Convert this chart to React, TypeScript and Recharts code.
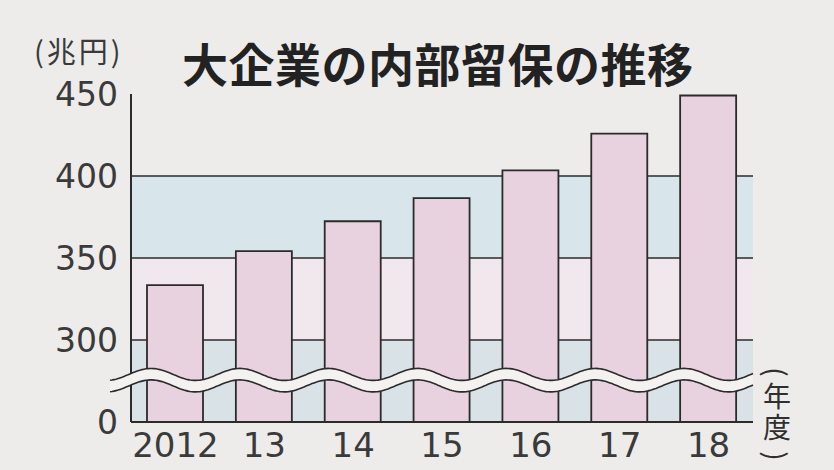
import { BarChart, Bar, XAxis, YAxis, ReferenceArea, ReferenceLine } from "recharts";

// fiscal years and large-company retained earnings (trillion yen)
const years = ["2012", "13", "14", "15", "16", "17", "18"];
const reserves = [333.5, 354.2, 372.4, 386.5, 403.4, 425.8, 449.1];

// the axis is broken: the bottom value stands in for 0
const axisBase = 250;
const yTicks = [250, 300, 350, 400, 450];
const yTickLabels = ["0", "300", "350", "400", "450"];
const gridValues = [300, 350, 400];
// position of the wavy break, in axis units
const breakLow = 272;
const breakHigh = 279;

const data = years.map((year, i) => ({ year, value: reserves[i] }));

const NUM_FONT = "'DejaVu Sans', 'Liberation Sans', sans-serif";
const JP_FONT = "'Noto Sans CJK JP', 'Noto Sans', sans-serif";
const INK = "#2b2b2b";

function BreakWave(props: any) {
  const { x, y, width, height } = props;
  const period = width / years.length;
  const amp = 6;
  const start = x - 21;
  const end = x + width;
  const phase = x + 20;
  const line = (base: number) => {
    const pts: [number, number][] = [];
    for (let px = start; px < end; px += 2) {
      pts.push([px, base - amp * Math.cos((2 * Math.PI * (px - phase)) / period)]);
    }
    pts.push([end, base - amp * Math.cos((2 * Math.PI * (end - phase)) / period)]);
    return pts;
  };
  const top = line(y);
  const bottom = line(y + height);
  const toPath = (pts: [number, number][]) =>
    pts.map((p, i) => `${i === 0 ? "M" : "L"}${p[0].toFixed(1)},${p[1].toFixed(1)}`).join(" ");
  const fill =
    toPath(top) +
    " " +
    bottom
      .slice()
      .reverse()
      .map((p) => `L${p[0].toFixed(1)},${p[1].toFixed(1)}`)
      .join(" ") +
    " Z";
  return (
    <g>
      <path d={fill} fill="#f3f2f0" stroke="none" />
      <path d={toPath(top)} fill="none" stroke={INK} strokeWidth={1.6} />
      <path d={toPath(bottom)} fill="none" stroke={INK} strokeWidth={1.6} />
    </g>
  );
}

// one cell of the vertical "(年度)" unit label
const unitCell = (top: number, size: number, rotate = false): React.CSSProperties => ({
  position: "absolute",
  left: 0,
  top,
  width: 32,
  height: size,
  lineHeight: `${size}px`,
  fontSize: size,
  textAlign: "center",
  transform: rotate ? "rotate(90deg)" : undefined,
});

export default function App() {
  return (
    <div
      style={{
        position: "absolute",
        left: 0,
        top: 0,
        width: 834,
        height: 470,
        background: "#edecea",
        overflow: "hidden",
      }}
    >
      <div style={{ position: "absolute", left: 0, top: 0 }}>
        <BarChart
          width={834}
          height={470}
          data={data}
          margin={{ top: 94, right: 81, bottom: 0, left: 0 }}
        >
          <ReferenceArea y1={250} y2={300} fill="#d9e3e7" fillOpacity={1} stroke="none" zIndex={-300} />
          <ReferenceArea y1={300} y2={350} fill="#f1e8ed" fillOpacity={1} stroke="none" zIndex={-300} />
          <ReferenceArea y1={350} y2={400} fill="#d8e6eb" fillOpacity={1} stroke="none" zIndex={-300} />
          {gridValues.map((v) => (
            <ReferenceLine key={v} y={v} stroke={INK} strokeWidth={1.6} zIndex={-200} />
          ))}
          <XAxis
            dataKey="year"
            height={48}
            axisLine={{ stroke: INK, strokeWidth: 2 }}
            tickLine={false}
            tickMargin={5}
            tick={{ fontSize: 34, fill: "#3a3a3a", fontFamily: NUM_FONT }}
            interval={0}
          />
          <YAxis
            width={131}
            domain={[axisBase, 450]}
            ticks={yTicks}
            allowDataOverflow
            interval={0}
            axisLine={{ stroke: INK, strokeWidth: 2 }}
            tickLine={false}
            tickSize={0}
            tickMargin={13}
            tickFormatter={(v: number) => yTickLabels[yTicks.indexOf(v)] ?? String(v)}
            tick={{ fontSize: 33, fill: "#3a3a3a", fontFamily: NUM_FONT }}
          />
          <Bar
            dataKey="value"
            barSize={56}
            fill="#e8d2df"
            stroke={INK}
            strokeWidth={1.8}
            isAnimationActive={false}
          />
          <ReferenceArea
            y1={breakLow}
            y2={breakHigh}
            shape={(p: any) => <BreakWave {...p} />}
            zIndex={900}
          />
        </BarChart>
      </div>
      <div
        style={{
          position: "absolute",
          left: 34,
          top: 36,
          fontFamily: JP_FONT,
          fontSize: 29,
          letterSpacing: 3,
          color: "#3a3a3a",
          lineHeight: 1,
          whiteSpace: "nowrap",
        }}
      >
        (兆円)
      </div>
      <div
        style={{
          position: "absolute",
          left: 182,
          top: 39,
          fontFamily: JP_FONT,
          fontSize: 46,
          fontWeight: 700,
          letterSpacing: 0.5,
          color: "#222",
          lineHeight: 1,
          whiteSpace: "nowrap",
        }}
      >
        大企業の内部留保の推移
      </div>
      <div
        style={{
          position: "absolute",
          left: 761,
          top: 358,
          width: 32,
          height: 112,
          fontFamily: JP_FONT,
          color: "#2f2f2f",
          zIndex: 2,
        }}
      >
        <div style={unitCell(0, 28, true)}>(</div>
        <div style={unitCell(23, 28)}>年</div>
        <div style={unitCell(54, 28)}>度</div>
        <div style={unitCell(84, 28, true)}>)</div>
      </div>
    </div>
  );
}
